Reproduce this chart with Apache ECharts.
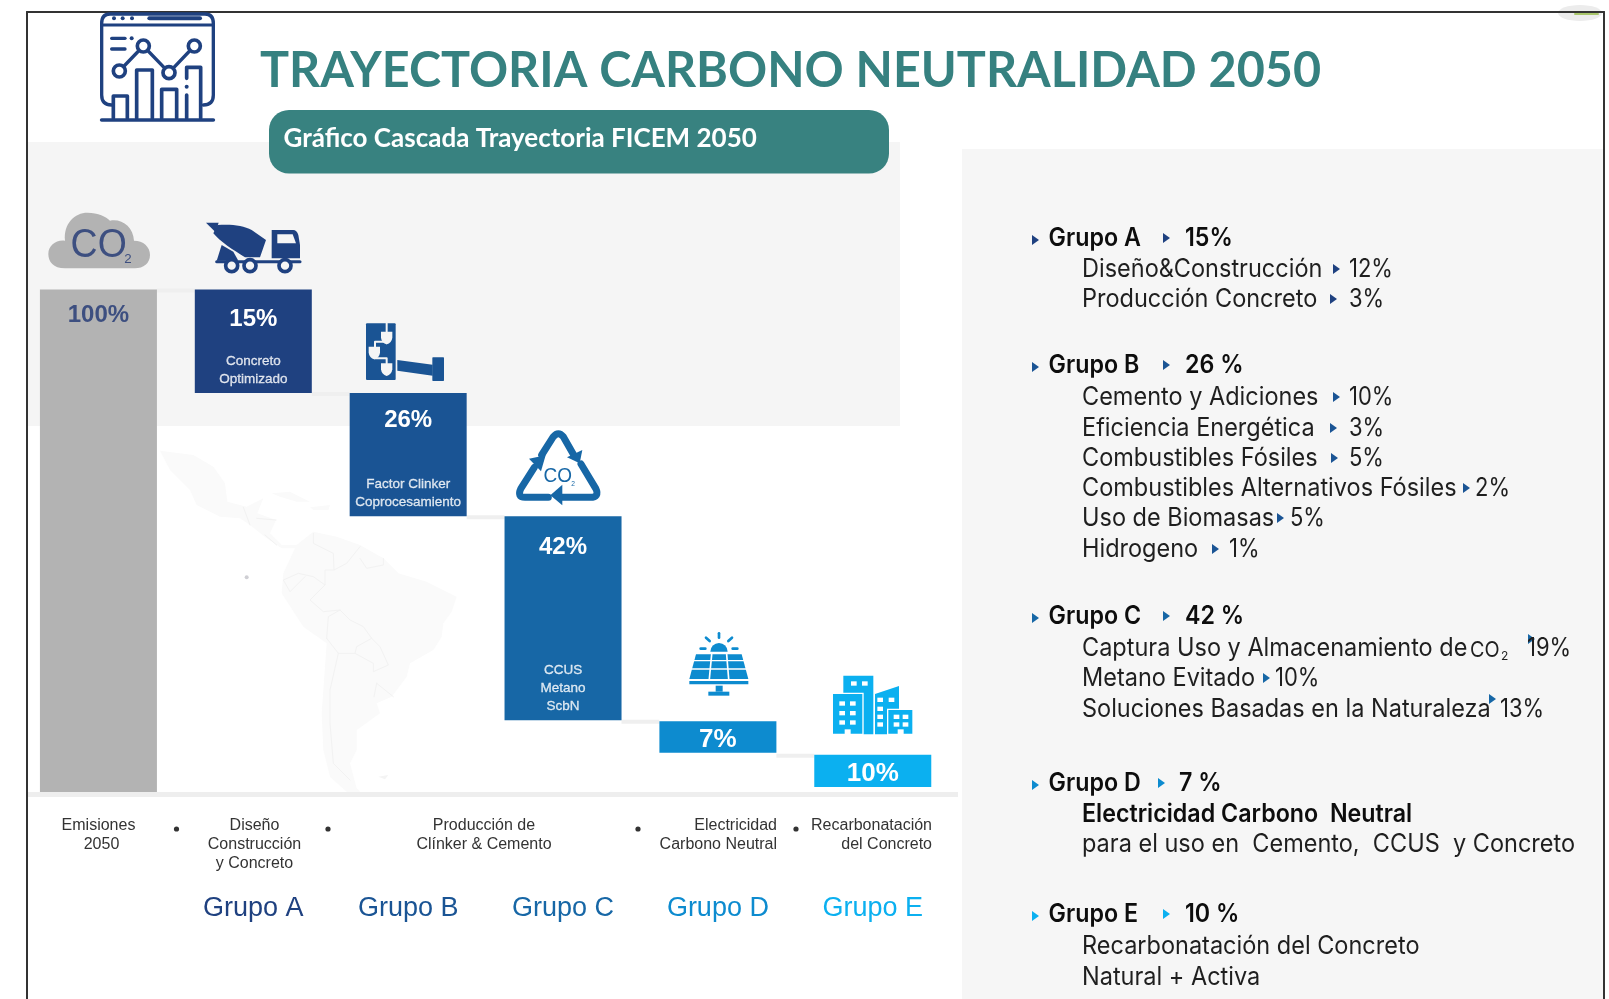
<!DOCTYPE html>
<html>
<head>
<meta charset="utf-8">
<title>Trayectoria Carbono Neutralidad 2050</title>
<style>
  html, body { margin: 0; padding: 0; background: #fff; }
  #chart { width: 1609px; height: 999px; }
</style>
<script src="https://cdn.jsdelivr.net/npm/echarts@6/dist/echarts.min.js"></script>
</head>
<body>
<div id="chart"></div>
<script>
// cascade: axis labels, printed percentages
const groupNames = ['', 'Grupo A', 'Grupo B', 'Grupo C', 'Grupo D', 'Grupo E']
const barLabels = ['100%', '15%', '26%', '42%', '7%', '10%']
// the slide does not draw the bars to scale with their labels, so these are the
// drawn top and bottom of each bar on a 0-100 axis
const barTop = [100, 100, 79.4, 54.9, 14.1, 7.4]
const barBottom = [0, 79.4, 54.9, 14.3, 7.8, 1.0]
const connectorLevel = [100, 79.4, 54.9, 14.2, 7.4]
const barNotes = ['', 'Concreto\nOptimizado', 'Factor Clinker\nCoprocesamiento', 'CCUS\nMetano\nScbN', '', '']
const barColors = ['#b3b3b3', '#1f4180', '#1a5494', '#1767a6', '#0d8bcf', '#0bb0f0']

// right panel
const panelLabels = ['Grupo A', 'Diseño&Construcción', 'Producción Concreto',
  'Grupo B', 'Cemento y Adiciones', 'Eficiencia Energética', 'Combustibles Fósiles',
  'Combustibles Alternativos Fósiles', 'Uso de Biomasas', 'Hidrogeno',
  'Grupo C', 'Captura Uso y Almacenamiento de', 'Metano Evitado', 'Soluciones Basadas en la Naturaleza',
  'Grupo D', 'Electricidad Carbono  Neutral', 'para el uso en  Cemento,  CCUS  y Concreto',
  'Grupo E', 'Recarbonatación del Concreto', 'Natural + Activa']
const panelValues = ['15%', '12%', '3%',
  '26 %', '10%', '3%', '5%', '2%', '5%', '1%',
  '42 %', '19%', '10%', '13%',
  '7 %', '', '',
  '10 %', '', '']

// layout of the panel rows
const panelY = [238, 269, 299, 365, 397, 428, 458, 488, 518, 549, 616, 648, 678, 709, 783, 814, 844, 914, 946, 977]
const panelArrowX = [1163, 1333, 1330, 1163, 1333, 1330, 1331, 1463, 1277, 1212, 1163, 1528, 1263, 1489, 1158, 0, 0, 1163, 0, 0]
const panelArrowDy = [0, 0, 0, 0, 0, 0, 0, 0, 0, 0, 0, -9, 0, -10, 0, 0, 0, 0, 0, 0]
const panelValueX = [1185, 1349, 1349, 1185, 1349, 1349, 1349, 1475, 1290, 1229, 1185, 1527, 1275, 1500, 1179, 0, 0, 1185, 0, 0]
const panelHeads = [0, 3, 10, 14, 17]
const panelHeadColors = ['#1f4180', '#1a5494', '#1767a6', '#0d8bcf', '#0bb0f0']

// captions under the cascade: text, x, y, align
const captions = [
  ['Emisiones', 98.5, 826, 'center'], ['2050', 101.5, 844.5, 'center'],
  ['Diseño', 254.5, 826, 'center'], ['Construcción', 254.5, 844.5, 'center'], ['y Concreto', 254.5, 864, 'center'],
  ['Producción de', 484, 826, 'center'], ['Clínker & Cemento', 484, 844.5, 'center'],
  ['Electricidad', 777, 826, 'right'], ['Carbono Neutral', 777, 844.5, 'right'],
  ['Recarbonatación', 932, 826, 'right'], ['del Concreto', 932, 844.5, 'right']
]
const captionDots = [[176.5, 829], [328, 829], [638, 829], [796, 829]]

const BAR_WIDTH = 117
const TEXT_FONT = 'Inter, Roboto, sans-serif'
const ARIAL = '"Liberation Sans", Arial, sans-serif'

function text(x, y, str, font, fill, opts) {
  opts = opts || {}
  return {
    type: 'text', x: x, y: y, scaleX: opts.scaleX || 1, silent: true,
    style: { text: str, font: font, fill: fill, align: opts.align || 'left', verticalAlign: 'middle' }
  }
}
function rect(x, y, w, h, fill, r) {
  return { type: 'rect', silent: true, shape: { x: x, y: y, width: w, height: h, r: r || 0 }, style: { fill: fill } }
}
function line(x1, y1, x2, y2, stroke, w) {
  return { type: 'line', silent: true, shape: { x1: x1, y1: y1, x2: x2, y2: y2 }, style: { stroke: stroke, lineWidth: w, lineCap: 'round' } }
}
function circle(cx, cy, r, fill, stroke, w) {
  return { type: 'circle', silent: true, shape: { cx: cx, cy: cy, r: r }, style: { fill: fill, stroke: stroke, lineWidth: w || 0 } }
}
function poly(points, fill) {
  return { type: 'polygon', silent: true, shape: { points: points }, style: { fill: fill } }
}
// the graphic component has no plain path type, so each outline gets registered as a shape
let pathCount = 0
function path(d, fill, stroke, w) {
  const name = 'iconPath' + (pathCount++)
  echarts.graphic.registerShape(name, echarts.graphic.extendPath(d, {}))
  return { type: name, silent: true, style: { fill: fill || 'none', stroke: stroke || 'none', lineWidth: w || 0, lineCap: 'round', lineJoin: 'round' } }
}
function icon(x, y, children) {
  return { type: 'group', x: x, y: y, scaleX: 1 / 3, scaleY: 1 / 3, silent: true, children: children }
}

function dashboardIcon() {
  const c = '#1f4180'
  return icon(90, 10, [
    path('M65 285 Q35 285 35 255 V40 Q35 12 60 12 H345 Q370 12 370 40 V255 Q370 285 340 285', null, c, 10),
    line(35, 45, 370, 45, c, 9),
    circle(72, 25, 6, c), circle(98, 25, 6, c), circle(126, 25, 6, c),
    line(178, 25, 330, 25, c, 12),
    line(65, 85, 105, 85, c, 10), line(65, 117, 105, 117, c, 10), circle(125, 85, 6, c),
    path('M88 183 L160 108 L237 188 L313 108', null, c, 10),
    circle(88, 183, 18, '#fff', c, 11), circle(160, 108, 18, '#fff', c, 11),
    circle(237, 188, 18, '#fff', c, 11), circle(313, 108, 18, '#fff', c, 11),
    path('M70 325 V258 H112 V325', null, c, 11),
    path('M140 325 V180 H187 V325', null, c, 11),
    path('M215 325 V238 H260 V325', null, c, 11),
    path('M290 325 V255 M290 205 V172 H332 V325', null, c, 11),
    circle(290, 230, 6, c),
    line(35, 330, 370, 330, c, 11)
  ])
}
function cloudIcon() {
  return icon(0, 0, [
    path('M195 805 C160 805 145 785 145 762 C145 735 170 718 195 722 C190 670 225 638 262 638 C295 638 318 650 330 662 C365 655 400 680 402 722 C430 722 450 740 450 765 C450 790 430 805 405 805 Z', '#b3b3b3'),
    text(296, 738, 'CO', '122px "Liberation Sans"', '#3d4f80', { align: 'center', scaleX: 0.92 }),
    text(384, 778, '2', '40px "Liberation Sans"', '#3d4f80', { align: 'center' })
  ])
}
function truckIcon() {
  const c = '#1f4180'
  return icon(0, 0, [
    poly([[618, 668], [656, 668], [646, 696]], c),
    path('M640 700 L652 675 C690 672 730 675 755 690 L798 720 L780 772 L735 772 C700 750 660 725 640 700 Z', c),
    poly([[665, 735], [650, 782], [715, 782], [700, 755]], c),
    path('M815 775 V690 H880 Q890 690 895 705 L900 735 V775 Z', c),
    poly([[832, 703], [878, 703], [888, 730], [832, 730]], '#f5f5f5'),
    line(650, 785, 900, 785, c, 9),
    circle(695, 797, 18, '#f5f5f5', c, 11), circle(750, 797, 18, '#f5f5f5', c, 11), circle(855, 797, 18, '#f5f5f5', c, 11)
  ])
}
function towerIcon() {
  const c = '#1a5494'
  const shield = function (x, y) { return path('M' + (x - 17) + ' ' + y + ' H' + (x + 17) + ' V' + (y + 18) + ' Q' + (x + 15) + ' ' + (y + 33) + ' ' + x + ' ' + (y + 38) + ' Q' + (x - 15) + ' ' + (y + 33) + ' ' + (x - 17) + ' ' + (y + 18) + ' Z', '#f5f5f5') }
  return icon(0, 0, [
    rect(1098, 970, 89, 170, c, 3),
    shield(1160, 995), shield(1123, 1040), shield(1160, 1090),
    path('M1160 970 V995 M1160 1030 V1025 H1125 V1040 M1123 1075 H1160 V1090', null, '#f5f5f5', 6),
    poly([[1192, 1080], [1298, 1094], [1298, 1127], [1192, 1112]], c),
    rect(1297, 1072, 35, 71, c, 2)
  ])
}
function recycleIcon() {
  const c = '#1767a6'
  return icon(505, 420, [
    path('M110 105 L145 50 Q160 32 175 50 L208 108', null, c, 21),
    poly([[232, 90], [186, 112], [224, 130]], c),
    path('M228 132 L272 205 Q285 232 255 232 L170 232', null, c, 21),
    poly([[136, 226], [172, 194], [172, 256]], c),
    path('M130 232 L60 232 Q35 232 48 205 L88 142', null, c, 21),
    poly([[72, 116], [122, 106], [108, 154]], c),
    text(158, 168, 'CO', '60px "Liberation Sans"', c, { align: 'center', scaleX: 0.95 }),
    text(204, 192, '2', '20px "Liberation Sans"', c, { align: 'center' })
  ])
}
function solarIcon() {
  const c = '#0d8bcf'
  return icon(670, 620, [
    path('M121 95 A26 26 0 0 1 173 95 Z', c),
    line(147, 40, 147, 53, c, 8), line(108, 53, 119, 63, c, 8), line(186, 53, 175, 63, c, 8),
    line(92, 86, 106, 86, c, 8), line(188, 86, 202, 86, c, 8),
    poly([[78, 103], [215, 103], [235, 177], [58, 177]], c),
    line(125, 103, 118, 177, '#fff', 5), line(170, 103, 176, 177, '#fff', 5),
    line(70, 122, 225, 122, '#fff', 4), line(65, 147, 230, 147, '#fff', 4),
    rect(58, 183, 177, 10, c),
    rect(137, 197, 21, 18, c), rect(115, 215, 63, 12, c)
  ])
}
function buildingsIcon() {
  const c = '#0bb0f0'
  const win = function (pts, w, h) { return pts.map(function (p) { return rect(p[0], p[1], w, h, '#fff') }) }
  return icon(670, 620, [
    rect(520, 167, 90, 176, c),
    { type: 'rect', silent: true, shape: { x: 487, y: 220, width: 92, height: 123 }, style: { fill: c, stroke: '#fff', lineWidth: 4 } },
    poly([[615, 222], [687, 198], [687, 343], [615, 343]], c),
    { type: 'rect', silent: true, shape: { x: 653, y: 268, width: 76, height: 75 }, style: { fill: c, stroke: '#fff', lineWidth: 4 } }
  ].concat(
    win([[543, 184], [576, 184], [508, 244], [540, 244], [508, 273], [540, 273], [508, 301], [540, 301],
      [622, 233], [656, 233], [622, 260], [622, 284], [622, 307], [671, 284], [698, 284], [671, 307], [698, 307]], 17, 13),
    [rect(524, 328, 18, 15, '#fff'), rect(683, 328, 18, 15, '#fff')]
  ))
}
function mapShape() {
  const fill = '#fafafa', edge = '#f2f2f2'
  return icon(150, 430, [
    poly([[30, 62], [130, 75], [190, 110], [225, 160], [232, 215], [290, 230], [340, 205], [322, 250], [378, 270], [360, 310],
      [395, 345], [440, 345], [490, 305], [560, 320], [630, 345], [700, 385], [745, 430], [830, 455], [920, 500], [905, 545],
      [880, 580], [875, 620], [850, 660], [780, 700], [770, 740], [725, 800], [680, 820], [690, 850], [620, 900], [620, 960],
      [600, 1000], [620, 1075], [640, 1095], [590, 1085], [540, 1040], [520, 960], [515, 850], [530, 640], [460, 590], [395, 490],
      [400, 430], [435, 355], [395, 355], [350, 325], [300, 285], [270, 265], [210, 260], [140, 225], [120, 180], [60, 120]], fill),
    poly([[365, 190], [420, 185], [480, 215], [440, 215], [390, 200]], fill),
    poly([[480, 232], [540, 225], [535, 240], [490, 240]], fill),
    path('M490 310 L490 340 L550 370 L552 420 L590 400 L630 350 M630 385 L650 415 L700 405 L700 385 M552 420 L525 420 L525 465 L490 440 L445 430 L400 450 L420 485 L465 440 M525 465 L480 510 L520 545 L570 540 L600 570 L640 590 L665 625 L620 650 L615 670 L670 700 L670 725 L715 705 L690 650 L665 625 M530 625 L535 560 L570 540 M530 625 L565 670 L615 670 M565 670 L540 780 L540 880 L550 1000 L600 1050 M680 760 L730 800 M680 760 L672 800', null, edge, 3),
    path('M280 232 L300 285 M320 265 L378 270 M345 315 L380 345', null, edge, 3),
    circle(290, 442, 6, '#cfcfd4'), poly([[685, 1040], [715, 1035], [705, 1048]], '#f4f4f4')
  ])
}

function panelItems() {
  const items = []
  const arrow = function (x, y, c) { return poly([[x, y - 5], [x + 7, y], [x, y + 5]], c) }
  let head = -1
  panelLabels.forEach(function (label, i) {
    const isHead = panelHeads.indexOf(i) >= 0
    if (isHead) head++
    const c = panelHeadColors[head]
    const y = panelY[i]
    const bold = isHead || i === 15
    const font = (bold ? '600 ' : '400 ') + '25px ' + TEXT_FONT
    const sx = bold ? 0.93 : 0.94
    if (isHead) items.push(arrow(1032, y + 2, c))
    items.push(text(isHead ? 1048.5 : 1082, y, label, font, bold ? '#0d0d0d' : '#1f1f1f', { scaleX: sx }))
    if (panelArrowX[i]) items.push(arrow(panelArrowX[i], y + panelArrowDy[i], c))
    if (panelValues[i]) items.push(text(panelValueX[i], y, panelValues[i], font, bold ? '#0d0d0d' : '#1f1f1f', { scaleX: bold ? 0.93 : 0.88 }))
  })
  items.push(text(1470, 650, 'CO', '400 22px ' + TEXT_FONT, '#1f1f1f', { scaleX: 0.9 }))
  items.push(text(1501, 656, '2', '400 12px ' + TEXT_FONT, '#1f1f1f'))
  return items
}

const graphicItems = [
  rect(27, 142, 873, 284, '#f5f5f5'),
  rect(962, 149, 642, 850, '#f6f6f6'),
  mapShape(),
  rect(28, 792, 930, 5, '#eeeeee'),
  { type: 'ellipse', silent: true, shape: { cx: 1580, cy: 13, rx: 22, ry: 8 }, style: { fill: '#ececec' } },
  line(1575, 14, 1598, 14, '#a9c66b', 2),
  line(27, 12, 1604, 12, '#333333', 2),
  line(27, 12, 27, 999, '#333333', 2),
  line(1604, 12, 1604, 999, '#333333', 2),
  text(260, 71, 'TRAYECTORIA CARBONO NEUTRALIDAD 2050', '700 50px Lato, sans-serif', '#368180', { scaleX: 0.97 }),
  rect(269, 110, 620, 63.5, '#388280', 20),
  text(283.5, 138.5, 'Gráfico Cascada Trayectoria FICEM 2050', '700 26px Lato, sans-serif', '#ffffff', { scaleX: 1 }),
  dashboardIcon(), cloudIcon(), truckIcon(), towerIcon(), recycleIcon(), solarIcon(), buildingsIcon()
].concat(
  captions.map(function (c) { return text(c[1], c[2], c[0], '16px ' + ARIAL, '#333333', { align: c[3] }) }),
  captionDots.map(function (d) { return circle(d[0], d[1], 2.6, '#333333') }),
  panelItems()
)

const barLabelDistance = [14, 18, 15, 19]
const barLabelStyle = barLabels.map(function (str, i) {
  const flat = i >= 4
  return {
    show: true,
    formatter: str,
    position: flat ? 'inside' : 'insideTop',
    offset: flat ? [0, 3] : [0, 0],
    distance: flat ? 5 : barLabelDistance[i],
    color: i === 0 ? '#3d4f80' : '#ffffff',
    fontFamily: ARIAL,
    fontWeight: 'bold',
    fontSize: flat ? 26 : 24
  }
})

const option = {
  animation: false,
  backgroundColor: '#ffffff',
  graphic: { elements: graphicItems },
  grid: { left: 21, top: 289.5, width: 929.2, height: 502.5 },
  xAxis: {
    type: 'category',
    data: groupNames,
    axisLine: { show: false },
    axisTick: { show: false },
    axisLabel: {
      interval: 0,
      margin: 103,
      fontFamily: ARIAL,
      fontSize: 27,
      color: function (value, index) { return barColors[index] }
    }
  },
  yAxis: { type: 'value', min: 0, max: 100, show: false, splitLine: { show: false } },
  series: [
    {
      type: 'bar', stack: 'cascade', barWidth: BAR_WIDTH, silent: true,
      itemStyle: { color: 'transparent' },
      data: barBottom
    },
    {
      type: 'bar', stack: 'cascade', barWidth: BAR_WIDTH, silent: true,
      data: barTop.map(function (top, i) {
        return { value: top - barBottom[i], itemStyle: { color: barColors[i] }, label: barLabelStyle[i] }
      })
    },
    {
      // short grey steps between one bar and the next
      type: 'custom', silent: true,
      data: connectorLevel.map(function (level, i) { return [i, level] }),
      encode: { x: 0, y: 1 },
      renderItem: function (params, api) {
        const from = api.coord([api.value(0), api.value(1)])
        const to = api.coord([api.value(0) + 1, api.value(1)])
        return {
          type: 'rect',
          shape: { x: from[0] + BAR_WIDTH / 2, y: from[1] - 1, width: to[0] - from[0] - BAR_WIDTH, height: 4 },
          style: { fill: '#efefef' }
        }
      }
    },
    {
      // small notes sitting on the bottom edge of the tall bars
      type: 'scatter', symbolSize: 0, silent: true,
      data: barNotes.map(function (note, i) { return note ? { value: [i, barBottom[i]], note: note } : null }).filter(Boolean),
      label: {
        show: true, position: 'top', distance: 5,
        formatter: function (p) { return p.data.note },
        color: '#ffffff', fontFamily: ARIAL, fontSize: 13.5, lineHeight: 18,
        textBorderColor: '#ffffff', textBorderWidth: 0.3
      }
    }
  ]
}

const chart = echarts.init(document.getElementById('chart'))
chart.setOption(option)
</script>
</body>
</html>
